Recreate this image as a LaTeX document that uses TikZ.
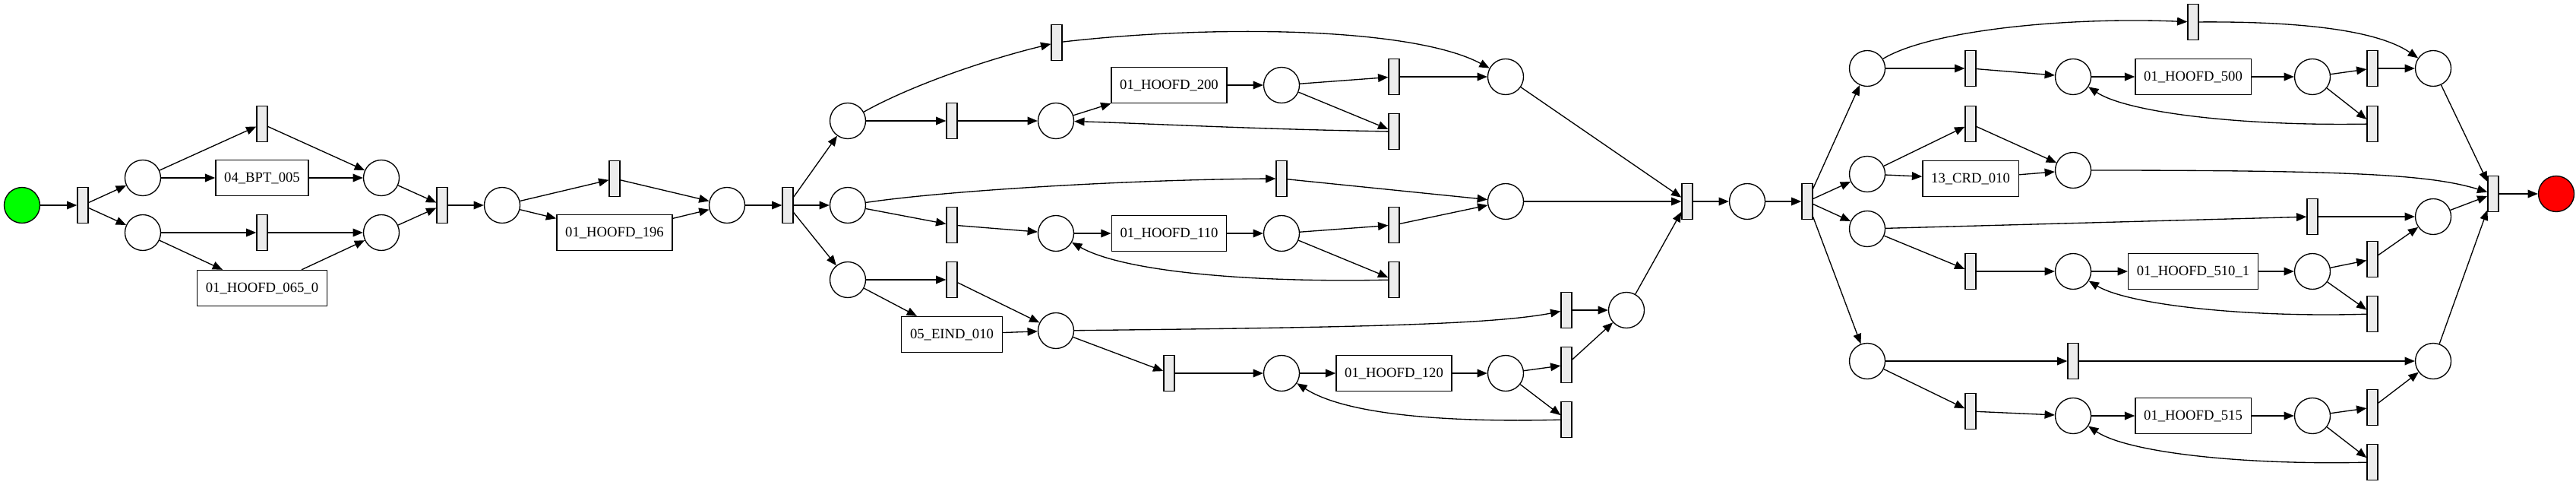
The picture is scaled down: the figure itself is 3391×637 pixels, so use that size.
\documentclass[tikz,border=0pt]{standalone}
\usepackage{fontspec}
\setmainfont{Liberation Serif}
\usetikzlibrary{arrows.meta}
\definecolor{pngreen}{RGB}{0,255,0}
\definecolor{pnred}{RGB}{255,0,0}
\definecolor{pngray}{RGB}{236,236,236}
\begin{document}
\begin{tikzpicture}[x=1pt,y=-1pt,
  place/.style={circle, draw, line width=1.33pt, fill=white, minimum size=47pt, inner sep=0pt},
  trans/.style={rectangle, draw, line width=1.33pt, fill=pngray, minimum width=14pt, minimum height=47pt, inner sep=0pt},
  task/.style={rectangle, draw, line width=1.33pt, fill=white, minimum height=47pt, inner xsep=11.3pt, inner ysep=0pt, font=\fontsize{18.67}{22}\selectfont},
  pnarc/.style={line width=1.33pt, -{Triangle[length=13.3pt,width=10.7pt]}}]
\useasboundingbox (0,0) rectangle (3391,637);
% section 1
\node[place, fill=pngreen] (ps) at (29,270) {};
\node[trans] (t1) at (109,270) {};
\node[place] (pa) at (188,234) {};
\node[place] (pb) at (188,306) {};
\node[trans] (tup) at (345,163) {};
\node[task] (bpt) at (345,234) {04\_BPT\_005};
\node[trans] (tlow) at (345,306) {};
\node[task] (h065) at (345,379) {01\_HOOFD\_065\_0};
\node[place] (pc) at (502,234) {};
\node[place] (pd) at (502,306) {};
\node[trans] (t2) at (582,270) {};
\node[place] (pe) at (661,270) {};
\node[trans] (ts196) at (809,235) {};
\node[task] (h196) at (809,306) {01\_HOOFD\_196};
\node[place] (pf) at (957,270) {};
\node[trans] (t3) at (1037,270) {};
% branch g
\node[place] (pg) at (1116,159) {};
\node[trans] (ttop) at (1391,56) {};
\node[trans] (tg) at (1253,159) {};
\node[place] (pg2) at (1390,159) {};
\node[task] (h200) at (1539,112) {01\_HOOFD\_200};
\node[place] (pg3) at (1687,112) {};
\node[trans] (tge) at (1835,101) {};
\node[trans] (tgl) at (1835,173) {};
\node[place] (pgend) at (1982,101) {};
% branch h
\node[place] (ph) at (1116,270) {};
\node[trans] (ths) at (1687,235) {};
\node[trans] (th) at (1253,296) {};
\node[place] (ph2) at (1390,307) {};
\node[task] (h110) at (1539,307) {01\_HOOFD\_110};
\node[place] (ph3) at (1687,307) {};
\node[trans] (the) at (1835,296) {};
\node[trans] (thl) at (1835,368) {};
\node[place] (phend) at (1982,265) {};
% branch i
\node[place] (pi) at (1116,368) {};
\node[trans] (ti) at (1253,368) {};
\node[task] (eind) at (1253,440) {05\_EIND\_010};
\node[place] (pi2) at (1390,435) {};
\node[trans] (tis) at (2062,408) {};
\node[trans] (ti2) at (1539,491) {};
\node[place] (pi3) at (1687,491) {};
\node[task] (h120) at (1835,491) {01\_HOOFD\_120};
\node[place] (pi4) at (1982,491) {};
\node[trans] (tie) at (2062,480) {};
\node[trans] (til) at (2062,552) {};
\node[place] (piend) at (2141,408) {};
% middle
\node[trans] (t4) at (2221,265) {};
\node[place] (pj) at (2300,265) {};
\node[trans] (t5) at (2379,265) {};
% branch k
\node[place] (pk) at (2458,90) {};
\node[trans] (tks) at (2887,29) {};
\node[trans] (tk) at (2594,90) {};
\node[place] (pk2) at (2729,101) {};
\node[task] (h500) at (2887,101) {01\_HOOFD\_500};
\node[place] (pk3) at (3044,101) {};
\node[trans] (tke) at (3123,90) {};
\node[trans] (tkl) at (3123,163) {};
\node[place] (pkend) at (3203,90) {};
% branch l
\node[place] (pl) at (2458,229) {};
\node[trans] (tl) at (2594,163) {};
\node[task] (crd) at (2594,235) {13\_CRD\_010};
\node[place] (plend) at (2729,224) {};
% branch m
\node[place] (pm) at (2458,301) {};
\node[trans] (tms) at (3044,285) {};
\node[trans] (tm) at (2594,357) {};
\node[place] (pm2) at (2729,357) {};
\node[task] (h510) at (2887,357) {01\_HOOFD\_510\_1};
\node[place] (pm3) at (3044,357) {};
\node[trans] (tme) at (3123,341) {};
\node[trans] (tml) at (3123,413) {};
\node[place] (pmend) at (3203,285) {};
% branch n
\node[place] (pn) at (2458,475) {};
\node[trans] (tns) at (2729,475) {};
\node[trans] (tn) at (2594,541) {};
\node[place] (pn2) at (2729,547) {};
\node[task] (h515) at (2887,547) {01\_HOOFD\_515};
\node[place] (pn3) at (3044,547) {};
\node[trans] (tne) at (3123,536) {};
\node[trans] (tnl) at (3123,608) {};
\node[place] (pnend) at (3203,475) {};
% end
\node[trans] (tend) at (3282,255) {};
\node[place, fill=pnred] (pend) at (3365,255) {};

% edges section 1
\draw[pnarc] (ps) -- (t1);
\draw[pnarc] (t1) -- (pa);
\draw[pnarc] (t1) -- (pb);
\draw[pnarc] (pa) -- (tup);
\draw[pnarc] (pa) -- (bpt);
\draw[pnarc] (tup) -- (pc);
\draw[pnarc] (bpt) -- (pc);
\draw[pnarc] (pb) -- (tlow);
\draw[pnarc] (pb) -- (h065);
\draw[pnarc] (tlow) -- (pd);
\draw[pnarc] (h065) -- (pd);
\draw[pnarc] (pc) -- (t2);
\draw[pnarc] (pd) -- (t2);
\draw[pnarc] (t2) -- (pe);
\draw[pnarc] (pe) -- (ts196);
\draw[pnarc] (pe) -- (h196);
\draw[pnarc] (ts196) -- (pf);
\draw[pnarc] (h196) -- (pf);
\draw[pnarc] (pf) -- (t3);
\draw[pnarc] (t3) -- (pg);
\draw[pnarc] (t3) -- (ph);
\draw[pnarc] (t3) -- (pi);
% branch g
\draw[pnarc] (pg) .. controls (1200,112) and (1300,78) .. (ttop);
\draw[pnarc] (ttop) .. controls (1600,32) and (1860,36) .. (pgend);
\draw[pnarc] (pg) -- (tg);
\draw[pnarc] (tg) -- (pg2);
\draw[pnarc] (pg2) -- (h200);
\draw[pnarc] (h200) -- (pg3);
\draw[pnarc] (pg3) -- (tge);
\draw[pnarc] (pg3) -- (tgl);
\draw[pnarc] (tge) -- (pgend);
\draw[pnarc] (tgl) .. controls (1650,170) and (1500,162) .. (pg2);
% branch h
\draw[pnarc] (ph) .. controls (1250,250) and (1500,236) .. (ths);
\draw[pnarc] (ths) -- (phend);
\draw[pnarc] (ph) -- (th);
\draw[pnarc] (th) -- (ph2);
\draw[pnarc] (ph2) -- (h110);
\draw[pnarc] (h110) -- (ph3);
\draw[pnarc] (ph3) -- (the);
\draw[pnarc] (ph3) -- (thl);
\draw[pnarc] (the) -- (phend);
\draw[pnarc] (thl) .. controls (1650,372) and (1480,358) .. (ph2);
% branch i
\draw[pnarc] (pi) -- (ti);
\draw[pnarc] (pi) -- (eind);
\draw[pnarc] (ti) -- (pi2);
\draw[pnarc] (eind) -- (pi2);
\draw[pnarc] (pi2) .. controls (1750,431) and (1960,428) .. (tis);
\draw[pnarc] (tis) -- (piend);
\draw[pnarc] (pi2) -- (ti2);
\draw[pnarc] (ti2) -- (pi3);
\draw[pnarc] (pi3) -- (h120);
\draw[pnarc] (h120) -- (pi4);
\draw[pnarc] (pi4) -- (tie);
\draw[pnarc] (pi4) -- (til);
\draw[pnarc] (tie) -- (piend);
\draw[pnarc] (til) .. controls (1900,556) and (1770,545) .. (pi3);
% join
\draw[pnarc] (pgend) -- (t4);
\draw[pnarc] (phend) -- (t4);
\draw[pnarc] (piend) -- (t4);
\draw[pnarc] (t4) -- (pj);
\draw[pnarc] (pj) -- (t5);
\draw[pnarc] (t5) -- (pk);
\draw[pnarc] (t5) -- (pl);
\draw[pnarc] (t5) -- (pm);
\draw[pnarc] (t5) -- (pn);
% branch k
\draw[pnarc] (pk) .. controls (2540,40) and (2720,22) .. (tks);
\draw[pnarc] (tks) .. controls (3030,28) and (3130,40) .. (pkend);
\draw[pnarc] (pk) -- (tk);
\draw[pnarc] (tk) -- (pk2);
\draw[pnarc] (pk2) -- (h500);
\draw[pnarc] (h500) -- (pk3);
\draw[pnarc] (pk3) -- (tke);
\draw[pnarc] (pk3) -- (tkl);
\draw[pnarc] (tke) -- (pkend);
\draw[pnarc] (tkl) .. controls (2950,166) and (2800,148) .. (pk2);
% branch l
\draw[pnarc] (pl) -- (tl);
\draw[pnarc] (pl) -- (crd);
\draw[pnarc] (tl) -- (plend);
\draw[pnarc] (crd) -- (plend);
\draw[pnarc] (plend) .. controls (3100,224) and (3200,230) .. (tend);
% branch m
\draw[pnarc] (pm) -- (tms);
\draw[pnarc] (tms) -- (pmend);
\draw[pnarc] (pm) -- (tm);
\draw[pnarc] (tm) -- (pm2);
\draw[pnarc] (pm2) -- (h510);
\draw[pnarc] (h510) -- (pm3);
\draw[pnarc] (pm3) -- (tme);
\draw[pnarc] (pm3) -- (tml);
\draw[pnarc] (tme) -- (pmend);
\draw[pnarc] (tml) .. controls (2950,418) and (2800,400) .. (pm2);
% branch n
\draw[pnarc] (pn) -- (tns);
\draw[pnarc] (tns) -- (pnend);
\draw[pnarc] (pn) -- (tn);
\draw[pnarc] (tn) -- (pn2);
\draw[pnarc] (pn2) -- (h515);
\draw[pnarc] (h515) -- (pn3);
\draw[pnarc] (pn3) -- (tne);
\draw[pnarc] (pn3) -- (tnl);
\draw[pnarc] (tne) -- (pnend);
\draw[pnarc] (tnl) .. controls (2950,612) and (2800,595) .. (pn2);
% end
\draw[pnarc] (pkend) -- (tend);
\draw[pnarc] (pmend) -- (tend);
\draw[pnarc] (pnend) -- (tend);
\draw[pnarc] (tend) -- (pend);
\end{tikzpicture}
\end{document}
